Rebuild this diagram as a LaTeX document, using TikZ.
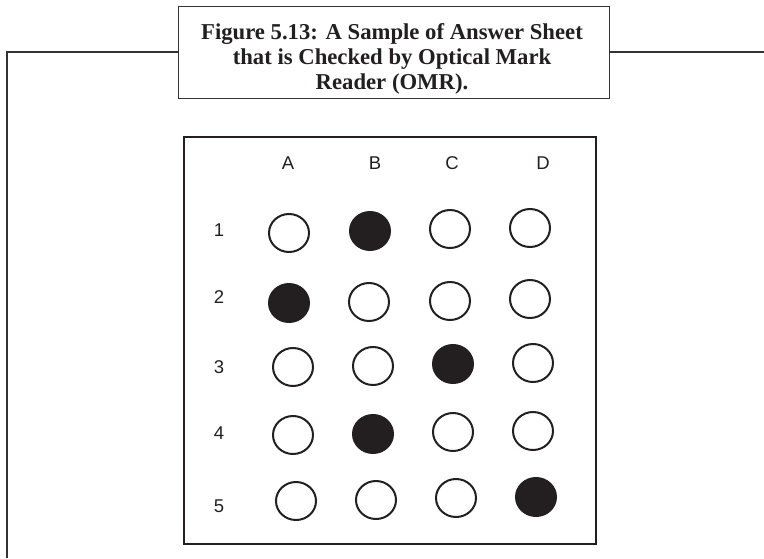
\documentclass[tikz,border=0pt]{standalone}
\usepackage{fontspec}
\setmainfont{Liberation Serif}
\setsansfont{Liberation Sans}
\usepackage{tikz}
\usetikzlibrary{positioning,shapes.geometric}
\definecolor{inkdark}{HTML}{231F20}
\definecolor{framegray}{HTML}{333333}
\tikzset{
  bubble/.style={ellipse, draw=inkdark, line width=2pt, minimum width=40pt, minimum height=38pt, inner sep=0pt},
  marked/.style={bubble, fill=inkdark},
  lbl/.style={font=\sffamily\fontsize{18.5}{20}\selectfont, text=inkdark, inner sep=0pt}
}

\begin{document}
\begin{tikzpicture}[x=1pt, y=-1pt]
    \useasboundingbox (0,0) rectangle (764,558);
    % Caption box
    \node[draw=framegray, line width=1pt, minimum width=431pt, minimum height=92pt] (capbox) at (393.5,52) {};
    \node[align=center, inner sep=0pt, font=\bfseries\fontsize{22.7}{25}\selectfont, text=inkdark] (caption) at (392,59)
          {Figure 5.13: A Sample of Answer Sheet\\that is Checked by Optical Mark\\Reader (OMR).};
    % Outer frame
    \coordinate (frameTL) at (7,52);
    \coordinate (frameBL) at (7,558);
    \coordinate (frameTR) at (764,52);
    \draw[framegray, line width=1.3pt] (capbox.west) -- (frameTL) -- (frameBL);
    \draw[framegray, line width=1.3pt] (capbox.east) -- (frameTR);
    % Answer sheet
    \node[draw=inkdark, line width=2.2pt, minimum width=412pt, minimum height=407pt] (sheet) at (390,340.5) {};
    % Column labels
    \node[lbl] (colA) at (288,163) {A};
    \node[lbl] (colB) at (375,163) {B};
    \node[lbl] (colC) at (452,163) {C};
    \node[lbl] (colD) at (543,163) {D};
    % Row labels
    \node[lbl] (row1) at (219,230) {1};
    \node[lbl] (row2) at (219,297) {2};
    \node[lbl] (row3) at (219,367) {3};
    \node[lbl] (row4) at (219,433) {4};
    \node[lbl] (row5) at (219,506) {5};
    % Row 1
    \node[bubble] (a1) at (289,233) {};
    \node[marked] (b1) at (370,231) {};
    \node[bubble] (c1) at (450,229) {};
    \node[bubble] (d1) at (530,228) {};
    % Row 2
    \node[marked] (a2) at (289,303) {};
    \node[bubble] (b2) at (369,302) {};
    \node[bubble] (c2) at (450,301) {};
    \node[bubble] (d2) at (530,299) {};
    % Row 3
    \node[bubble] (a3) at (293,367) {};
    \node[bubble] (b3) at (373,366) {};
    \node[marked] (c3) at (453,364) {};
    \node[bubble] (d3) at (533,363) {};
    % Row 4
    \node[bubble] (a4) at (293,435) {};
    \node[marked] (b4) at (373,434) {};
    \node[bubble] (c4) at (453,432) {};
    \node[bubble] (d4) at (533,431) {};
    % Row 5
    \node[bubble] (a5) at (296,501) {};
    \node[bubble] (b5) at (376,500) {};
    \node[bubble] (c5) at (456,498) {};
    \node[marked] (d5) at (536,497) {};
\end{tikzpicture}
\end{document}
